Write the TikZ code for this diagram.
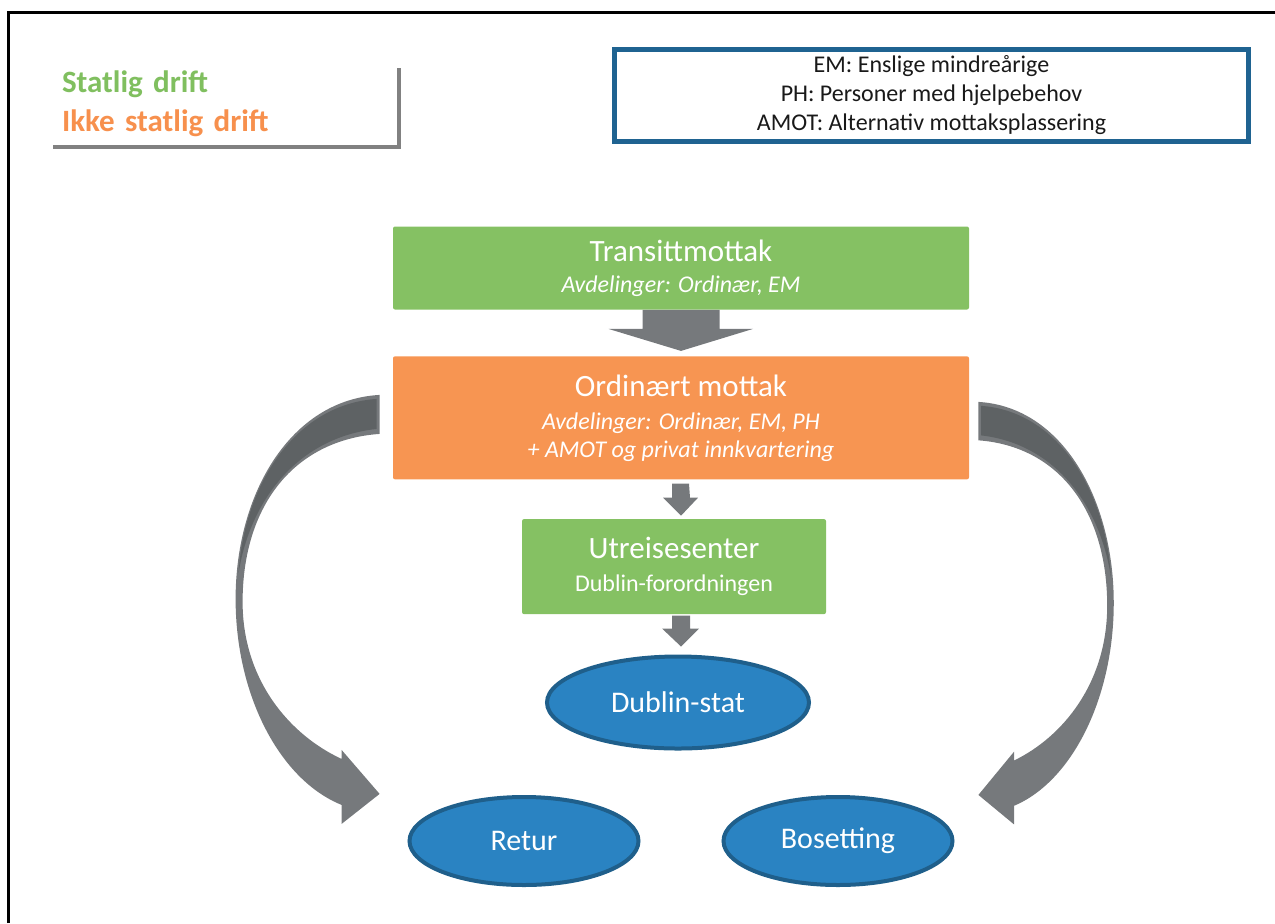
\documentclass[tikz,border=0pt]{standalone}
\usepackage{fontspec}
\setmainfont{Carlito}
\usetikzlibrary{positioning, calc, shapes.geometric, shadows}

\definecolor{stategreen}{HTML}{85C163}
\definecolor{privorange}{HTML}{F79552}
\definecolor{exitblue}{HTML}{2A83C2}
\definecolor{exitedge}{HTML}{1F5F8B}
\definecolor{arrowgray}{HTML}{76797C}
\definecolor{arrowdark}{HTML}{5E6264}
\definecolor{legendgreen}{HTML}{80BF5F}
\definecolor{legendorange}{HTML}{F7904D}
\definecolor{abbrevblue}{HTML}{1F6391}

% bent block arrow, drawn from its upper flat end
\newcommand{\bendarrow}{%
  \fill[arrowgray] (0,0) .. controls (-90,5) and (-144,100) .. (-144,204)
    .. controls (-144,300) and (-100,385) .. (-38,410) -- (-38,429) -- (0,399)
    -- (-38,355) -- (-38,364) .. controls (-90,340) and (-137,285) .. (-137,207)
    .. controls (-137,110) and (-85,45) .. (0,39) -- cycle;
  \fill[arrowdark] (-3,4) .. controls (-88,10) and (-136,95) .. (-141,178)
    .. controls (-130,108) and (-84,43) .. (-3,34) -- cycle;}

\begin{document}
\begin{tikzpicture}[x=0.5pt, y=-0.5pt,
    unitbox/.style={rectangle, rounded corners=1pt, text=white, align=center,
      inner sep=0pt, font=\fontsize{15.5}{18}\selectfont},
    exitnode/.style={ellipse, fill=exitblue, draw=exitedge, line width=2pt,
      text=white, inner sep=0pt, font=\fontsize{15}{18}\selectfont}]
  \useasboundingbox (0,0) rectangle (1275,923);
  \draw[line width=1.5pt] (8,923) -- (8,12) -- (1275,12);

  % legend and abbreviations
  \node[fill=white, drop shadow={shadow xshift=2pt, shadow yshift=-2pt, fill=black!55, opacity=0.9},
    text width=161pt, inner xsep=6.5pt, minimum height=40.5pt, align=left,
    font=\bfseries\fontsize{15.5}{18}\selectfont] (legend) at (223,104)
    {\textcolor{legendgreen}{Statlig drift}\\[1.5pt]\textcolor{legendorange}{Ikke statlig drift}};
  \node[draw=abbrevblue, line width=2.5pt, minimum width=317pt, minimum height=45pt,
    align=center, font=\fontsize{12}{14.5}\selectfont, text=black!90] (abbrev) at (931.5,95.5)
    {EM: Enslige mindreårige\\PH: Personer med hjelpebehov\\AMOT: Alternativ mottaksplassering};

  % reception chain
  \node[unitbox, fill=stategreen, minimum width=288pt, minimum height=41.5pt] (trans) at (681,268)
    {Transittmottak\\[-2.5pt]{\fontsize{12}{14}\selectfont\itshape Avdelinger: Ordinær, EM}};
  \node[unitbox, fill=privorange, minimum width=288pt, minimum height=61.5pt, below=23pt of trans] (ord)
    {Ordinært mottak\\[-1.5pt]{\fontsize{12}{14}\selectfont\itshape Avdelinger: Ordinær, EM, PH}\\[-4pt]{\fontsize{12}{14}\selectfont\itshape + AMOT og privat innkvartering}};
  \node[unitbox, fill=stategreen, minimum width=152pt, minimum height=47.5pt, below=19.5pt of ord, xshift=-3.5pt] (utr)
    {Utreisesenter\\[-1.5pt]{\fontsize{12}{14}\selectfont Dublin-forordningen}};
  \node[exitnode, minimum width=131pt, minimum height=46pt, below=20pt of utr, xshift=2pt] (dub) {Dublin-stat};
  \node[exitnode, minimum width=114.5pt, minimum height=44pt] (ret) at (524,841) {Retur};
  \node[exitnode, minimum width=114.5pt, minimum height=44pt] (bos) at (838,841) {Bosetting};

  % block arrows down the chain
  \fill[arrowgray] ($(trans.south)+(-38.5,0)$) -- ++(0,19) -- ++(-34,0) -- ($(ord.north)+(0,-5)$)
    -- ($(trans.south)+(72,19)$) -- ++(-33.5,0) -- ($(trans.south)+(38.5,0)$) -- cycle;
  \fill[arrowgray] ($(ord.south)+(-9,4)$) -- ++(0,14) -- ++(-9,0) -- ($(ord.south)+(0,36)$)
    -- ($(ord.south)+(17,18)$) -- ++(-8,0) -- ($(ord.south)+(8,4)$) -- cycle;
  \fill[arrowgray] ($(utr.south)+(-2,1)$) -- ++(0,13) -- ++(-10,0) -- ($(utr.south)+(7,32)$)
    -- ($(utr.south)+(25,14)$) -- ++(-9,0) -- ($(utr.south)+(16,1)$) -- cycle;

  % bent arrows to Retur and Bosetting
  \begin{scope}[shift={($(ord.north west)+(-13,39)$)}]
    \bendarrow
  \end{scope}
  \begin{scope}[shift={($(ord.north east)+(9,46)$)}, xscale=-0.94, yscale=0.985]
    \bendarrow
  \end{scope}
\end{tikzpicture}
\end{document}
